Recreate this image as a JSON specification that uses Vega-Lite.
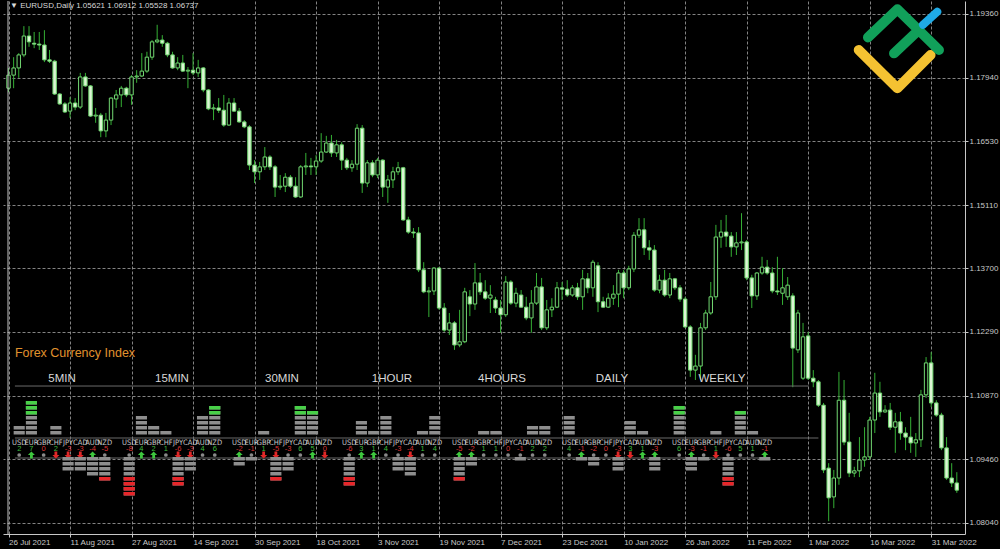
{
"$schema": "https://vega.github.io/schema/vega-lite/v6.json",
"width": 962,
"height": 533,
"autosize": {"type": "none"},
"padding": {"left": 3, "top": 1, "right": 35, "bottom": 15},
"background": "#000000",
"config": {"view": {"stroke": null}, "font": "Liberation Sans", "axis": {"labelOverlap": false}},
"datasets": {
"candles": [
{"i":0,"o":1.1771,"h":1.1816,"l":1.1762,"c":1.1800},
{"i":1,"o":1.1800,"h":1.1840,"l":1.1771,"c":1.1816},
{"i":2,"o":1.1816,"h":1.1849,"l":1.1794,"c":1.1845},
{"i":3,"o":1.1845,"h":1.1909,"l":1.1840,"c":1.1887},
{"i":4,"o":1.1887,"h":1.1909,"l":1.1863,"c":1.1874},
{"i":5,"o":1.1871,"h":1.1896,"l":1.1860,"c":1.1869},
{"i":6,"o":1.1869,"h":1.1896,"l":1.1856,"c":1.1867},
{"i":7,"o":1.1867,"h":1.1900,"l":1.1829,"c":1.1834},
{"i":8,"o":1.1834,"h":1.1856,"l":1.1827,"c":1.1831},
{"i":9,"o":1.1831,"h":1.1834,"l":1.1756,"c":1.1758},
{"i":10,"o":1.1758,"h":1.1760,"l":1.1734,"c":1.1736},
{"i":11,"o":1.1736,"h":1.1740,"l":1.1716,"c":1.1718},
{"i":12,"o":1.1720,"h":1.1751,"l":1.1705,"c":1.1738},
{"i":13,"o":1.1738,"h":1.1749,"l":1.1722,"c":1.1729},
{"i":14,"o":1.1729,"h":1.1805,"l":1.1725,"c":1.1796},
{"i":15,"o":1.1796,"h":1.1805,"l":1.1774,"c":1.1776},
{"i":16,"o":1.1776,"h":1.1778,"l":1.1707,"c":1.1709},
{"i":17,"o":1.1709,"h":1.1727,"l":1.1694,"c":1.1711},
{"i":18,"o":1.1711,"h":1.1716,"l":1.1662,"c":1.1676},
{"i":19,"o":1.1676,"h":1.1716,"l":1.1662,"c":1.1700},
{"i":20,"o":1.1700,"h":1.1751,"l":1.1689,"c":1.1749},
{"i":21,"o":1.1747,"h":1.1767,"l":1.1727,"c":1.1756},
{"i":22,"o":1.1756,"h":1.1776,"l":1.1729,"c":1.1771},
{"i":23,"o":1.1771,"h":1.1774,"l":1.1751,"c":1.1756},
{"i":24,"o":1.1756,"h":1.1800,"l":1.1734,"c":1.1796},
{"i":25,"o":1.1796,"h":1.1811,"l":1.1783,"c":1.1798},
{"i":26,"o":1.1798,"h":1.1849,"l":1.1796,"c":1.1809},
{"i":27,"o":1.1809,"h":1.1852,"l":1.1805,"c":1.1840},
{"i":28,"o":1.1840,"h":1.1878,"l":1.1834,"c":1.1874},
{"i":29,"o":1.1874,"h":1.1912,"l":1.1871,"c":1.1878},
{"i":30,"o":1.1878,"h":1.1889,"l":1.1863,"c":1.1871},
{"i":31,"o":1.1871,"h":1.1874,"l":1.1840,"c":1.1845},
{"i":32,"o":1.1845,"h":1.1852,"l":1.1814,"c":1.1816},
{"i":33,"o":1.1816,"h":1.1840,"l":1.1811,"c":1.1827},
{"i":34,"o":1.1827,"h":1.1845,"l":1.1807,"c":1.1809},
{"i":35,"o":1.1809,"h":1.1818,"l":1.1771,"c":1.1811},
{"i":36,"o":1.1811,"h":1.1849,"l":1.1800,"c":1.1805},
{"i":37,"o":1.1805,"h":1.1834,"l":1.1796,"c":1.1816},
{"i":38,"o":1.1816,"h":1.1818,"l":1.1762,"c":1.1767},
{"i":39,"o":1.1767,"h":1.1769,"l":1.1722,"c":1.1725},
{"i":40,"o":1.1725,"h":1.1736,"l":1.1700,"c":1.1727},
{"i":41,"o":1.1727,"h":1.1749,"l":1.1716,"c":1.1722},
{"i":42,"o":1.1722,"h":1.1756,"l":1.1685,"c":1.1689},
{"i":43,"o":1.1689,"h":1.1749,"l":1.1687,"c":1.1738},
{"i":44,"o":1.1738,"h":1.1749,"l":1.1718,"c":1.1720},
{"i":45,"o":1.1720,"h":1.1727,"l":1.1694,"c":1.1696},
{"i":46,"o":1.1696,"h":1.1700,"l":1.1682,"c":1.1685},
{"i":47,"o":1.1685,"h":1.1689,"l":1.1589,"c":1.1600},
{"i":48,"o":1.1600,"h":1.1611,"l":1.1560,"c":1.1585},
{"i":49,"o":1.1585,"h":1.1607,"l":1.1567,"c":1.1596},
{"i":50,"o":1.1596,"h":1.1640,"l":1.1589,"c":1.1618},
{"i":51,"o":1.1618,"h":1.1622,"l":1.1589,"c":1.1596},
{"i":52,"o":1.1596,"h":1.1600,"l":1.1529,"c":1.1551},
{"i":53,"o":1.1551,"h":1.1578,"l":1.1545,"c":1.1553},
{"i":54,"o":1.1553,"h":1.1582,"l":1.1540,"c":1.1573},
{"i":55,"o":1.1573,"h":1.1578,"l":1.1549,"c":1.1553},
{"i":56,"o":1.1553,"h":1.1573,"l":1.1527,"c":1.1529},
{"i":57,"o":1.1529,"h":1.1600,"l":1.1527,"c":1.1596},
{"i":58,"o":1.1596,"h":1.1627,"l":1.1578,"c":1.1598},
{"i":59,"o":1.1598,"h":1.1616,"l":1.1578,"c":1.1596},
{"i":60,"o":1.1596,"h":1.1622,"l":1.1578,"c":1.1609},
{"i":61,"o":1.1609,"h":1.1671,"l":1.1605,"c":1.1629},
{"i":62,"o":1.1629,"h":1.1665,"l":1.1627,"c":1.1649},
{"i":63,"o":1.1649,"h":1.1667,"l":1.1618,"c":1.1627},
{"i":64,"o":1.1627,"h":1.1656,"l":1.1618,"c":1.1645},
{"i":65,"o":1.1645,"h":1.1651,"l":1.1589,"c":1.1611},
{"i":66,"o":1.1611,"h":1.1616,"l":1.1589,"c":1.1594},
{"i":67,"o":1.1594,"h":1.1611,"l":1.1585,"c":1.1602},
{"i":68,"o":1.1602,"h":1.1691,"l":1.1589,"c":1.1682},
{"i":69,"o":1.1682,"h":1.1689,"l":1.1538,"c":1.1560},
{"i":70,"o":1.1560,"h":1.1611,"l":1.1551,"c":1.1605},
{"i":71,"o":1.1605,"h":1.1611,"l":1.1573,"c":1.1578},
{"i":72,"o":1.1578,"h":1.1616,"l":1.1571,"c":1.1611},
{"i":73,"o":1.1611,"h":1.1613,"l":1.1529,"c":1.1551},
{"i":74,"o":1.1551,"h":1.1578,"l":1.1516,"c":1.1567},
{"i":75,"o":1.1567,"h":1.1596,"l":1.1549,"c":1.1585},
{"i":76,"o":1.1585,"h":1.1607,"l":1.1578,"c":1.1594},
{"i":77,"o":1.1594,"h":1.1596,"l":1.1476,"c":1.1478},
{"i":78,"o":1.1478,"h":1.1485,"l":1.1447,"c":1.1451},
{"i":79,"o":1.1451,"h":1.1460,"l":1.1438,"c":1.1449},
{"i":80,"o":1.1449,"h":1.1462,"l":1.1362,"c":1.1367},
{"i":81,"o":1.1367,"h":1.1384,"l":1.1315,"c":1.1318},
{"i":82,"o":1.1318,"h":1.1329,"l":1.1262,"c":1.1320},
{"i":83,"o":1.1320,"h":1.1373,"l":1.1311,"c":1.1371},
{"i":84,"o":1.1371,"h":1.1373,"l":1.1278,"c":1.1282},
{"i":85,"o":1.1282,"h":1.1293,"l":1.1229,"c":1.1233},
{"i":86,"o":1.1233,"h":1.1271,"l":1.1222,"c":1.1249},
{"i":87,"o":1.1249,"h":1.1253,"l":1.1189,"c":1.1200},
{"i":88,"o":1.1200,"h":1.1278,"l":1.1195,"c":1.1207},
{"i":89,"o":1.1207,"h":1.1327,"l":1.1204,"c":1.1318},
{"i":90,"o":1.1307,"h":1.1322,"l":1.1264,"c":1.1291},
{"i":91,"o":1.1291,"h":1.1382,"l":1.1278,"c":1.1338},
{"i":92,"o":1.1338,"h":1.1360,"l":1.1311,"c":1.1318},
{"i":93,"o":1.1318,"h":1.1344,"l":1.1300,"c":1.1304},
{"i":94,"o":1.1304,"h":1.1333,"l":1.1271,"c":1.1311},
{"i":95,"o":1.1300,"h":1.1307,"l":1.1271,"c":1.1282},
{"i":96,"o":1.1282,"h":1.1300,"l":1.1227,"c":1.1267},
{"i":97,"o":1.1267,"h":1.1353,"l":1.1262,"c":1.1340},
{"i":98,"o":1.1340,"h":1.1344,"l":1.1289,"c":1.1293},
{"i":99,"o":1.1293,"h":1.1327,"l":1.1284,"c":1.1315},
{"i":100,"o":1.1311,"h":1.1322,"l":1.1282,"c":1.1284},
{"i":101,"o":1.1284,"h":1.1307,"l":1.1255,"c":1.1260},
{"i":102,"o":1.1260,"h":1.1322,"l":1.1227,"c":1.1293},
{"i":103,"o":1.1293,"h":1.1360,"l":1.1289,"c":1.1329},
{"i":104,"o":1.1329,"h":1.1349,"l":1.1233,"c":1.1238},
{"i":105,"o":1.1238,"h":1.1300,"l":1.1233,"c":1.1278},
{"i":106,"o":1.1278,"h":1.1304,"l":1.1262,"c":1.1284},
{"i":107,"o":1.1284,"h":1.1340,"l":1.1282,"c":1.1327},
{"i":108,"o":1.1327,"h":1.1340,"l":1.1300,"c":1.1324},
{"i":109,"o":1.1324,"h":1.1344,"l":1.1307,"c":1.1311},
{"i":110,"o":1.1311,"h":1.1333,"l":1.1307,"c":1.1327},
{"i":111,"o":1.1327,"h":1.1338,"l":1.1300,"c":1.1307},
{"i":112,"o":1.1307,"h":1.1367,"l":1.1278,"c":1.1347},
{"i":113,"o":1.1347,"h":1.1360,"l":1.1315,"c":1.1327},
{"i":114,"o":1.1327,"h":1.1389,"l":1.1307,"c":1.1384},
{"i":115,"o":1.1376,"h":1.1384,"l":1.1273,"c":1.1296},
{"i":116,"o":1.1296,"h":1.1307,"l":1.1282,"c":1.1284},
{"i":117,"o":1.1284,"h":1.1315,"l":1.1282,"c":1.1304},
{"i":118,"o":1.1304,"h":1.1333,"l":1.1289,"c":1.1313},
{"i":119,"o":1.1313,"h":1.1367,"l":1.1284,"c":1.1360},
{"i":120,"o":1.1360,"h":1.1367,"l":1.1304,"c":1.1327},
{"i":121,"o":1.1327,"h":1.1376,"l":1.1322,"c":1.1369},
{"i":122,"o":1.1369,"h":1.1451,"l":1.1362,"c":1.1444},
{"i":123,"o":1.1444,"h":1.1482,"l":1.1438,"c":1.1456},
{"i":124,"o":1.1456,"h":1.1482,"l":1.1400,"c":1.1416},
{"i":125,"o":1.1416,"h":1.1433,"l":1.1389,"c":1.1411},
{"i":126,"o":1.1411,"h":1.1422,"l":1.1318,"c":1.1322},
{"i":127,"o":1.1322,"h":1.1356,"l":1.1315,"c":1.1344},
{"i":128,"o":1.1344,"h":1.1367,"l":1.1307,"c":1.1311},
{"i":129,"o":1.1311,"h":1.1360,"l":1.1304,"c":1.1347},
{"i":130,"o":1.1347,"h":1.1349,"l":1.1322,"c":1.1327},
{"i":131,"o":1.1327,"h":1.1333,"l":1.1296,"c":1.1302},
{"i":132,"o":1.1302,"h":1.1307,"l":1.1238,"c":1.1240},
{"i":133,"o":1.1240,"h":1.1244,"l":1.1129,"c":1.1144},
{"i":134,"o":1.1144,"h":1.1178,"l":1.1122,"c":1.1153},
{"i":135,"o":1.1153,"h":1.1249,"l":1.1122,"c":1.1238},
{"i":136,"o":1.1238,"h":1.1278,"l":1.1233,"c":1.1271},
{"i":137,"o":1.1271,"h":1.1340,"l":1.1267,"c":1.1307},
{"i":138,"o":1.1307,"h":1.1467,"l":1.1300,"c":1.1440},
{"i":139,"o":1.1440,"h":1.1478,"l":1.1416,"c":1.1451},
{"i":140,"o":1.1451,"h":1.1489,"l":1.1418,"c":1.1442},
{"i":141,"o":1.1442,"h":1.1451,"l":1.1396,"c":1.1418},
{"i":142,"o":1.1418,"h":1.1451,"l":1.1400,"c":1.1427},
{"i":143,"o":1.1427,"h":1.1493,"l":1.1411,"c":1.1429},
{"i":144,"o":1.1429,"h":1.1433,"l":1.1344,"c":1.1349},
{"i":145,"o":1.1349,"h":1.1356,"l":1.1282,"c":1.1309},
{"i":146,"o":1.1309,"h":1.1362,"l":1.1300,"c":1.1360},
{"i":147,"o":1.1360,"h":1.1396,"l":1.1356,"c":1.1373},
{"i":148,"o":1.1373,"h":1.1389,"l":1.1356,"c":1.1360},
{"i":149,"o":1.1360,"h":1.1373,"l":1.1315,"c":1.1320},
{"i":150,"o":1.1320,"h":1.1396,"l":1.1311,"c":1.1318},
{"i":151,"o":1.1315,"h":1.1371,"l":1.1289,"c":1.1327},
{"i":152,"o":1.1307,"h":1.1351,"l":1.1300,"c":1.1333},
{"i":153,"o":1.1309,"h":1.1315,"l":1.1106,"c":1.1193},
{"i":154,"o":1.1189,"h":1.1278,"l":1.1182,"c":1.1271},
{"i":155,"o":1.1126,"h":1.1249,"l":1.1122,"c":1.1218},
{"i":156,"o":1.1220,"h":1.1229,"l":1.1122,"c":1.1126},
{"i":157,"o":1.1126,"h":1.1144,"l":1.1106,"c":1.1118},
{"i":158,"o":1.1118,"h":1.1122,"l":1.1062,"c":1.1066},
{"i":159,"o":1.1066,"h":1.1071,"l":1.0915,"c":1.0922},
{"i":160,"o":1.0926,"h":1.0937,"l":1.0808,"c":1.0860},
{"i":161,"o":1.0862,"h":1.0922,"l":1.0837,"c":1.0904},
{"i":162,"o":1.0904,"h":1.1140,"l":1.0889,"c":1.1077},
{"i":163,"o":1.1077,"h":1.1122,"l":1.0977,"c":1.0984},
{"i":164,"o":1.0984,"h":1.1049,"l":1.0906,"c":1.0915},
{"i":165,"o":1.0915,"h":1.0929,"l":1.0906,"c":1.0920},
{"i":166,"o":1.0920,"h":1.0995,"l":1.0906,"c":1.0944},
{"i":167,"o":1.0944,"h":1.1017,"l":1.0929,"c":1.0951},
{"i":168,"o":1.0951,"h":1.1040,"l":1.0944,"c":1.1033},
{"i":169,"o":1.1033,"h":1.1138,"l":1.1004,"c":1.1093},
{"i":170,"o":1.1093,"h":1.1118,"l":1.1040,"c":1.1051},
{"i":171,"o":1.1051,"h":1.1066,"l":1.1049,"c":1.1055},
{"i":172,"o":1.1055,"h":1.1071,"l":1.1011,"c":1.1017},
{"i":173,"o":1.1017,"h":1.1049,"l":1.0960,"c":1.1029},
{"i":174,"o":1.1029,"h":1.1051,"l":1.0989,"c":1.1004},
{"i":175,"o":1.1004,"h":1.1017,"l":1.0966,"c":1.0995},
{"i":176,"o":1.0995,"h":1.1040,"l":1.0960,"c":1.0982},
{"i":177,"o":1.0982,"h":1.1004,"l":1.0951,"c":1.0989},
{"i":178,"o":1.0989,"h":1.1100,"l":1.0973,"c":1.1089},
{"i":179,"o":1.1089,"h":1.1173,"l":1.1082,"c":1.1160},
{"i":180,"o":1.1160,"h":1.1184,"l":1.1062,"c":1.1071},
{"i":181,"o":1.1071,"h":1.1077,"l":1.1040,"c":1.1044},
{"i":182,"o":1.1044,"h":1.1049,"l":1.0966,"c":1.0971},
{"i":183,"o":1.0971,"h":1.0995,"l":1.0900,"c":1.0904},
{"i":184,"o":1.0904,"h":1.0937,"l":1.0884,"c":1.0893},
{"i":185,"o":1.0893,"h":1.0917,"l":1.0871,"c":1.0877}
],
"fci": [
{"tf":"5MIN","key":"5MIN USD","cur":"USD","v":2,"a":"dot"},{"tf":"5MIN","key":"5MIN EUR","cur":"EUR","v":7,"a":"up"},{"tf":"5MIN","key":"5MIN GBP","cur":"GBP","v":0,"a":"dot"},{"tf":"5MIN","key":"5MIN CHF","cur":"CHF","v":2,"a":"down"},{"tf":"5MIN","key":"5MIN JPY","cur":"JPY","v":-3,"a":"down"},{"tf":"5MIN","key":"5MIN CAD","cur":"CAD","v":-3,"a":"down"},{"tf":"5MIN","key":"5MIN AUD","cur":"AUD","v":-4,"a":"up"},{"tf":"5MIN","key":"5MIN NZD","cur":"NZD","v":-5,"a":"dot"},
{"tf":"15MIN","key":"15MIN USD","cur":"USD","v":-8,"a":"dot"},{"tf":"15MIN","key":"15MIN EUR","cur":"EUR","v":4,"a":"up"},{"tf":"15MIN","key":"15MIN GBP","cur":"GBP","v":2,"a":"up"},{"tf":"15MIN","key":"15MIN CHF","cur":"CHF","v":1,"a":"dot"},{"tf":"15MIN","key":"15MIN JPY","cur":"JPY","v":-6,"a":"down"},{"tf":"15MIN","key":"15MIN CAD","cur":"CAD","v":-3,"a":"down"},{"tf":"15MIN","key":"15MIN AUD","cur":"AUD","v":4,"a":"dot"},{"tf":"15MIN","key":"15MIN NZD","cur":"NZD","v":6,"a":"dot"},
{"tf":"30MIN","key":"30MIN USD","cur":"USD","v":-2,"a":"up"},{"tf":"30MIN","key":"30MIN EUR","cur":"EUR","v":-1,"a":"dot"},{"tf":"30MIN","key":"30MIN GBP","cur":"GBP","v":1,"a":"down"},{"tf":"30MIN","key":"30MIN CHF","cur":"CHF","v":-5,"a":"down"},{"tf":"30MIN","key":"30MIN JPY","cur":"JPY","v":-3,"a":"dot"},{"tf":"30MIN","key":"30MIN CAD","cur":"CAD","v":6,"a":"dot"},{"tf":"30MIN","key":"30MIN AUD","cur":"AUD","v":5,"a":"up"},{"tf":"30MIN","key":"30MIN NZD","cur":"NZD","v":0,"a":"down"},
{"tf":"1HOUR","key":"1HOUR USD","cur":"USD","v":-6,"a":"dot"},{"tf":"1HOUR","key":"1HOUR EUR","cur":"EUR","v":3,"a":"up"},{"tf":"1HOUR","key":"1HOUR GBP","cur":"GBP","v":1,"a":"up"},{"tf":"1HOUR","key":"1HOUR CHF","cur":"CHF","v":4,"a":"dot"},{"tf":"1HOUR","key":"1HOUR JPY","cur":"JPY","v":-3,"a":"dot"},{"tf":"1HOUR","key":"1HOUR CAD","cur":"CAD","v":-4,"a":"down"},{"tf":"1HOUR","key":"1HOUR AUD","cur":"AUD","v":1,"a":"dot"},{"tf":"1HOUR","key":"1HOUR NZD","cur":"NZD","v":4,"a":"dot"},
{"tf":"4HOURS","key":"4HOURS USD","cur":"USD","v":-5,"a":"up"},{"tf":"4HOURS","key":"4HOURS EUR","cur":"EUR","v":-2,"a":"up"},{"tf":"4HOURS","key":"4HOURS GBP","cur":"GBP","v":1,"a":"dot"},{"tf":"4HOURS","key":"4HOURS CHF","cur":"CHF","v":1,"a":"dot"},{"tf":"4HOURS","key":"4HOURS JPY","cur":"JPY","v":0,"a":"dot"},{"tf":"4HOURS","key":"4HOURS CAD","cur":"CAD","v":-1,"a":"dot"},{"tf":"4HOURS","key":"4HOURS AUD","cur":"AUD","v":2,"a":"dot"},{"tf":"4HOURS","key":"4HOURS NZD","cur":"NZD","v":2,"a":"dot"},
{"tf":"DAILY","key":"DAILY USD","cur":"USD","v":4,"a":"dot"},{"tf":"DAILY","key":"DAILY EUR","cur":"EUR","v":-1,"a":"up"},{"tf":"DAILY","key":"DAILY GBP","cur":"GBP","v":-2,"a":"dot"},{"tf":"DAILY","key":"DAILY CHF","cur":"CHF","v":0,"a":"dot"},{"tf":"DAILY","key":"DAILY JPY","cur":"JPY","v":-3,"a":"down"},{"tf":"DAILY","key":"DAILY CAD","cur":"CAD","v":3,"a":"down"},{"tf":"DAILY","key":"DAILY AUD","cur":"AUD","v":1,"a":"up"},{"tf":"DAILY","key":"DAILY NZD","cur":"NZD","v":-3,"a":"up"},
{"tf":"WEEKLY","key":"WEEKLY USD","cur":"USD","v":6,"a":"dot"},{"tf":"WEEKLY","key":"WEEKLY EUR","cur":"EUR","v":-3,"a":"up"},{"tf":"WEEKLY","key":"WEEKLY GBP","cur":"GBP","v":-1,"a":"dot"},{"tf":"WEEKLY","key":"WEEKLY CHF","cur":"CHF","v":1,"a":"down"},{"tf":"WEEKLY","key":"WEEKLY JPY","cur":"JPY","v":-6,"a":"dot"},{"tf":"WEEKLY","key":"WEEKLY CAD","cur":"CAD","v":5,"a":"dot"},{"tf":"WEEKLY","key":"WEEKLY AUD","cur":"AUD","v":1,"a":"dot"},{"tf":"WEEKLY","key":"WEEKLY NZD","cur":"NZD","v":-1,"a":"up"}
]
},
"resolve": {"scale": {"x": "independent", "y": "independent"}},
"layer": [
{
"layer": [
{
"data": {"name": "candles"},
"mark": {"type": "rule", "color": "#35b035", "strokeWidth": 1},
"encoding": {
"x": {"field": "i", "type": "quantitative",
"scale": {"domain": [-0.1, 185.62], "nice": false, "zero": false},
"axis": {"orient": "bottom", "title": null,
"values": [0,6,12,18,24,30,36,42,48,54,60,66,72,78,84,90,96,102,108,114,120,126,132,138,144,150,156,162,168,174,180],
"labelExpr": "datum.value % 12 == 0 ? ['26 Jul 2021','11 Aug 2021','27 Aug 2021','14 Sep 2021','30 Sep 2021','18 Oct 2021','3 Nov 2021','19 Nov 2021','7 Dec 2021','23 Dec 2021','10 Jan 2022','26 Jan 2022','11 Feb 2022','1 Mar 2022','16 Mar 2022','31 Mar 2022'][datum.value / 12] : ''",
"labelAlign": "left", "labelBaseline": "top", "labelPadding": 1, "labelFontSize": 8, "labelColor": "#c8c8c8",
"labelOverlap": false, "labelBound": false, "labelFlush": false,
"domainColor": "#c8c8c8", "tickColor": "#c8c8c8", "tickSize": 3,
"tickOpacity": {"condition": {"test": "datum.value % 12 == 0", "value": 1}, "value": 0},
"grid": true, "gridColor": "#9a9a9a", "gridDash": [3, 2], "gridWidth": 1, "gridOpacity": 0.85}},
"y": {"field": "l", "type": "quantitative",
"scale": {"domain": [1.07795, 1.19649], "nice": false, "zero": false},
"axis": {"orient": "right", "title": null,
"values": [1.0804, 1.0875, 1.0946, 1.1017, 1.1087, 1.1158, 1.1229, 1.1299, 1.137, 1.1441, 1.1511, 1.1582, 1.1653, 1.1724, 1.1794, 1.1865, 1.1936],
"format": ".5f", "labelFontSize": 8, "labelColor": "#c8c8c8", "labelPadding": 1,
"labelOverlap": false, "labelBound": false, "labelFlush": false,
"domainColor": "#c8c8c8", "tickColor": "#c8c8c8", "tickSize": 3,
"grid": true, "gridColor": "#9a9a9a", "gridDash": [3, 2], "gridWidth": 1, "gridOpacity": 0.85}},
"y2": {"field": "h"}
}
},
{
"data": {"name": "candles"},
"mark": {"type": "bar", "width": 3.4, "stroke": "#72d872", "strokeWidth": 1},
"encoding": {
"x": {"field": "i", "type": "quantitative"},
"y": {"field": "o", "type": "quantitative"},
"y2": {"field": "c"},
"fill": {"condition": {"test": "datum.c > datum.o", "value": "#000000"}, "value": "#dcf5d4"}
}
},
{
"data": {"values": [{"edge": "left"}]},
"mark": {"type": "rule", "color": "#c8c8c8", "strokeWidth": 1},
"encoding": {"x": {"datum": -0.1, "type": "quantitative"}}
},
{
"data": {"values": [{"t": "▼ EURUSD,Daily  1.05621 1.06912 1.05528 1.06737"}]},
"mark": {"type": "text", "align": "left", "baseline": "middle", "fontSize": 8, "color": "#d8d8d8"},
"encoding": {"x": {"datum": 0.29, "type": "quantitative"}, "y": {"datum": 1.19538, "type": "quantitative"}, "text": {"field": "t", "type": "nominal"}}
},
{
"data": {"values": [{"t": "Forex Currency Index"}]},
"mark": {"type": "text", "align": "left", "baseline": "middle", "fontSize": 12.5, "color": "#e0922e"},
"encoding": {"x": {"datum": 1.25, "type": "quantitative"}, "y": {"datum": 1.1182, "type": "quantitative"}, "text": {"field": "t", "type": "nominal"}}
},
{
"data": {"values": [{"line": "timeframes"}]},
"mark": {"type": "rule", "color": "#6a6a6a", "strokeWidth": 1},
"encoding": {"x": {"datum": 1.25, "type": "quantitative"}, "x2": {"datum": 156.1}, "y": {"datum": 1.11086, "type": "quantitative"}}
},
{
"data": {"values": [{"line": "labels"}]},
"mark": {"type": "rule", "color": "#6a6a6a", "strokeWidth": 1},
"encoding": {"x": {"datum": 1.25, "type": "quantitative"}, "x2": {"datum": 158.0}, "y": {"datum": 1.0993, "type": "quantitative"}}
},
{
"data": {"values": [{"line": "zero"}]},
"mark": {"type": "rule", "color": "#6a6a6a", "strokeWidth": 1},
"encoding": {"x": {"datum": 1.25, "type": "quantitative"}, "x2": {"datum": 148.55}, "y": {"datum": 1.09485, "type": "quantitative"}}
},
{
"data": {"values": [{"logo": "yellow"}]},
"mark": {"type": "point", "shape": "M-0.95,0L-0.03,0.91L0.76,0.12", "filled": false, "color": "#f4c232", "stroke": "#f4c232", "strokeWidth": 10, "strokeCap": "round", "strokeJoin": "round", "size": 7056, "opacity": 1},
"encoding": {"x": {"datum": 173.65, "type": "quantitative"}, "y": {"datum": 1.18559, "type": "quantitative"}}
},
{
"data": {"values": [{"logo": "green"}]},
"mark": {"type": "point", "shape": "M-0.73,-0.3L-0.03,-0.97L0.96,0M-0.11,0.08L0.4,-0.4", "filled": false, "color": "#11a05a", "stroke": "#11a05a", "strokeWidth": 10, "strokeCap": "round", "strokeJoin": "round", "size": 7056, "opacity": 1},
"encoding": {"x": {"datum": 173.65, "type": "quantitative"}, "y": {"datum": 1.18559, "type": "quantitative"}}
},
{
"data": {"values": [{"logo": "blue"}]},
"mark": {"type": "point", "shape": "M0.58,-0.6L0.92,-0.91", "filled": false, "color": "#1faae6", "stroke": "#1faae6", "strokeWidth": 8, "strokeCap": "round", "strokeJoin": "round", "size": 7056, "opacity": 1},
"encoding": {"x": {"datum": 173.65, "type": "quantitative"}, "y": {"datum": 1.18559, "type": "quantitative"}}
}
]
},
{
"data": {"name": "fci"},
"resolve": {"scale": {"y": "independent"}},
"encoding": {
"x": {"field": "key", "type": "nominal",
"scale": {"type": "band", "domain": ["5MIN USD","5MIN EUR","5MIN GBP","5MIN CHF","5MIN JPY","5MIN CAD","5MIN AUD","5MIN NZD","gap 1","15MIN USD","15MIN EUR","15MIN GBP","15MIN CHF","15MIN JPY","15MIN CAD","15MIN AUD","15MIN NZD","gap 2","30MIN USD","30MIN EUR","30MIN GBP","30MIN CHF","30MIN JPY","30MIN CAD","30MIN AUD","30MIN NZD","gap 3","1HOUR USD","1HOUR EUR","1HOUR GBP","1HOUR CHF","1HOUR JPY","1HOUR CAD","1HOUR AUD","1HOUR NZD","gap 4","4HOURS USD","4HOURS EUR","4HOURS GBP","4HOURS CHF","4HOURS JPY","4HOURS CAD","4HOURS AUD","4HOURS NZD","gap 5","DAILY USD","DAILY EUR","DAILY GBP","DAILY CHF","DAILY JPY","DAILY CAD","DAILY AUD","DAILY NZD","gap 6","WEEKLY USD","WEEKLY EUR","WEEKLY GBP","WEEKLY CHF","WEEKLY JPY","WEEKLY CAD","WEEKLY AUD","WEEKLY NZD","pad 1","pad 2","pad 3","pad 4","pad 5","pad 6","pad 7","pad 8","pad 9","pad 10","pad 11","pad 12","pad 13","pad 14","pad 15"],
"paddingInner": 0.09, "paddingOuter": 0.9, "align": 0.484, "round": false},
"axis": null}
},
"layer": [
{
"layer": [
{
"transform": [{"filter": "datum.v > 0"}],
"mark": {"type": "rule", "strokeWidth": 11.1, "strokeDash": [3.5, 1.5], "color": "#8e8e8e"},
"encoding": {
"y": {"field": "v", "type": "quantitative", "scale": {"domain": [-19.6, 87.0], "nice": false, "zero": false}, "axis": null},
"y2": {"datum": 0}
}
},
{
"transform": [{"filter": "datum.v > 4"}],
"mark": {"type": "rule", "strokeWidth": 11.1, "strokeDash": [3.5, 1.5], "color": "#48d048"},
"encoding": {
"y": {"field": "v", "type": "quantitative", "axis": null},
"y2": {"datum": 4}
}
},
{
"mark": {"type": "text", "baseline": "middle", "align": "center", "fontSize": 7.5, "font": "Liberation Sans Narrow, DejaVu Sans Condensed, Liberation Sans", "color": "#c8c8c8"},
"encoding": {
"y": {"datum": -1.3, "type": "quantitative", "axis": null},
"text": {"field": "cur", "type": "nominal"}
}
},
{
"mark": {"type": "text", "baseline": "middle", "align": "center", "fontSize": 7.5},
"encoding": {
"y": {"datum": -2.6, "type": "quantitative", "axis": null},
"text": {"field": "v", "type": "nominal"},
"color": {"condition": {"test": "datum.v > 0", "value": "#3cbc3c"}, "value": "#dd3333"}
}
},
{
"transform": [{"filter": "datum.a == 'up'"}],
"mark": {"type": "point", "shape": "M0,-1L1,0L0.4,0L0.4,1L-0.4,1L-0.4,0L-1,0Z", "filled": true, "color": "#3ec83e", "size": 49, "opacity": 1},
"encoding": {"y": {"datum": -3.8, "type": "quantitative", "axis": null}}
},
{
"transform": [{"filter": "datum.a == 'down'"}],
"mark": {"type": "point", "shape": "M0,1L1,0L0.4,0L0.4,-1L-0.4,-1L-0.4,0L-1,0Z", "filled": true, "color": "#e02828", "size": 49, "opacity": 1},
"encoding": {"y": {"datum": -3.8, "type": "quantitative", "axis": null}}
},
{
"transform": [{"filter": "datum.a == 'dot'"}],
"mark": {"type": "point", "shape": "circle", "filled": true, "color": "#8a8a8a", "size": 14, "opacity": 1},
"encoding": {"y": {"datum": -3.8, "type": "quantitative", "axis": null}}
},
{
"transform": [{"filter": "datum.cur == 'CHF'"}],
"mark": {"type": "text", "baseline": "middle", "align": "center", "dx": 6.1, "fontSize": 11.5, "color": "#d8d8d8"},
"encoding": {
"y": {"datum": 11.4, "type": "quantitative", "axis": null},
"text": {"field": "tf", "type": "nominal"}
}
}
]
},
{
"layer": [
{
"transform": [{"filter": "datum.v < 0"}],
"mark": {"type": "rule", "strokeWidth": 11.1, "strokeDash": [3.5, 1.5], "color": "#8e8e8e"},
"encoding": {
"y": {"field": "v", "type": "quantitative", "scale": {"domain": [-15.7, 90.9], "nice": false, "zero": false}, "axis": null},
"y2": {"datum": 0}
}
},
{
"transform": [{"filter": "datum.v < -4"}],
"mark": {"type": "rule", "strokeWidth": 11.1, "strokeDash": [3.5, 1.5], "color": "#e8262a"},
"encoding": {
"y": {"field": "v", "type": "quantitative", "axis": null},
"y2": {"datum": -4}
}
}
]
}
]
}
]
}
